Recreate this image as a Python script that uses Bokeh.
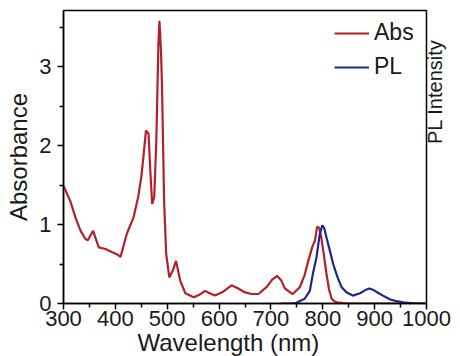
import math
from bokeh.plotting import figure
from bokeh.models import Range1d, Legend, LegendItem, FixedTicker, LinearAxis, Title
from bokeh.embed import file_html
from bokeh.resources import INLINE

# Absorbance spectrum (wavelength nm, absorbance)
abs_wl = [300, 313, 323, 333, 342, 347, 357, 368, 381, 394, 404, 410, 422, 435,
          444, 450, 454, 459, 464, 467, 471, 475, 479, 483, 485, 488, 490, 494,
          498, 504, 511, 517, 525, 535, 551, 562, 573, 582, 592, 608, 624, 637,
          650, 663, 676, 692, 702, 712, 720, 727, 742, 756, 765, 772, 780, 785,
          789, 793, 797, 802, 807, 812, 817, 824, 831, 850, 900, 950, 1000]
abs_val = [1.49, 1.30, 1.09, 0.92, 0.82, 0.80, 0.92, 0.71, 0.69, 0.65, 0.62, 0.59,
           0.88, 1.09, 1.35, 1.60, 1.85, 2.19, 2.15, 1.73, 1.26, 1.35, 2.06, 3.29,
           3.58, 3.20, 2.74, 1.30, 0.63, 0.33, 0.42, 0.54, 0.29, 0.13, 0.08, 0.11,
           0.16, 0.13, 0.10, 0.15, 0.23, 0.19, 0.14, 0.12, 0.12, 0.21, 0.30, 0.35,
           0.29, 0.19, 0.12, 0.21, 0.36, 0.54, 0.72, 0.80, 0.97, 0.96, 0.84, 0.62,
           0.38, 0.18, 0.06, 0.02, 0.01, 0.0, 0.0, 0.0, 0.0]

# PL spectrum (normalised)
pl_wl = [720, 740, 749, 765, 775, 781, 788, 794, 799, 803, 807, 814, 820, 828,
         836, 846, 858, 872, 882, 890, 898, 908, 916, 930, 942, 960, 980, 1000]
pl_val = [0.0, 0.0, 0.01, 0.06, 0.16, 0.38, 0.59, 0.87, 0.99, 0.95, 0.84, 0.66,
          0.50, 0.34, 0.21, 0.14, 0.10, 0.13, 0.17, 0.19, 0.17, 0.13, 0.10, 0.05,
          0.03, 0.01, 0.0, 0.0]

x_ticks = [300, 400, 500, 600, 700, 800, 900, 1000]
x_minor = [350, 450, 550, 650, 750, 850, 950]
y_ticks = [0, 1, 2, 3]
y_minor = [0.5, 1.5, 2.5, 3.5]

RED = "#b3202a"
BLUE = "#1f2690"
FONT = "Liberation Sans"
TXT = "#1a1a1a"

p = figure(width=460, height=356, output_backend="svg", toolbar_location=None,
           x_range=Range1d(300, 1000), y_range=Range1d(0, 3.71),
           min_border_left=63, min_border_right=32, min_border_top=10,
           min_border_bottom=53)
p.grid.visible = False
p.outline_line_color = "black"
p.outline_line_width = 1.5
p.background_fill_color = "white"
p.border_fill_color = "white"

r_abs = p.line(abs_wl, abs_val, line_color=RED, line_width=2.2)
r_pl = p.line(pl_wl, pl_val, line_color=BLUE, line_width=2.2)

for ax in (p.xaxis[0], p.yaxis[0]):
    ax.axis_line_width = 1.5
    ax.axis_line_color = "black"
    ax.major_tick_line_width = 1.5
    ax.minor_tick_line_width = 1.5
    ax.major_tick_in = 0
    ax.minor_tick_in = 0
    ax.major_tick_out = 6
    ax.minor_tick_out = 4
    ax.major_label_text_font = FONT
    ax.major_label_text_font_size = "22px"
    ax.major_label_text_color = TXT
    ax.axis_label_text_font = FONT
    ax.axis_label_text_font_size = "24px"
    ax.axis_label_text_font_style = "normal"
    ax.axis_label_text_color = TXT

p.xaxis[0].ticker = FixedTicker(ticks=x_ticks, minor_ticks=x_minor)
p.yaxis[0].ticker = FixedTicker(ticks=y_ticks, minor_ticks=y_minor)
p.xaxis[0].major_label_standoff = 1
p.yaxis[0].major_label_standoff = 6
p.yaxis[0].axis_label = "Absorbance"
p.yaxis[0].axis_label_standoff = 4

# x axis title, shifted left as in the reference
xt = Title(text="Wavelength (nm)", align="left", offset=74, standoff=-4,
           text_font=FONT, text_font_size="24px", text_font_style="normal",
           text_color=TXT)
p.add_layout(xt, "below")

# right side: the "PL Intensity" title, written as the single (rotated) label
# of an otherwise empty right axis so that it can sit above the frame centre
PL_TITLE_POS = 2.02
ra = LinearAxis(ticker=FixedTicker(ticks=[PL_TITLE_POS]),
                major_label_overrides={PL_TITLE_POS: "PL Intensity"})
ra.axis_line_color = None
ra.major_tick_line_color = None
ra.minor_tick_line_color = None
ra.major_tick_out = 0
ra.minor_tick_out = 0
ra.major_tick_in = 0
ra.minor_tick_in = 0
ra.major_label_standoff = 9
ra.major_label_orientation = math.pi / 2
ra.major_label_text_font = FONT
ra.major_label_text_font_size = "20px"
ra.major_label_text_color = TXT
p.add_layout(ra, "right")

legend = Legend(items=[LegendItem(label="Abs", renderers=[r_abs]),
                       LegendItem(label="PL", renderers=[r_pl])],
                location=(271, 223))
legend.label_text_font = FONT
legend.label_text_font_size = "23px"
legend.label_text_color = TXT
legend.glyph_width = 35
legend.label_standoff = 5
legend.spacing = 7
legend.padding = 3
legend.margin = 0
legend.border_line_color = None
legend.background_fill_alpha = 0
p.add_layout(legend)

open("out.html", "w").write(file_html(p, INLINE))
